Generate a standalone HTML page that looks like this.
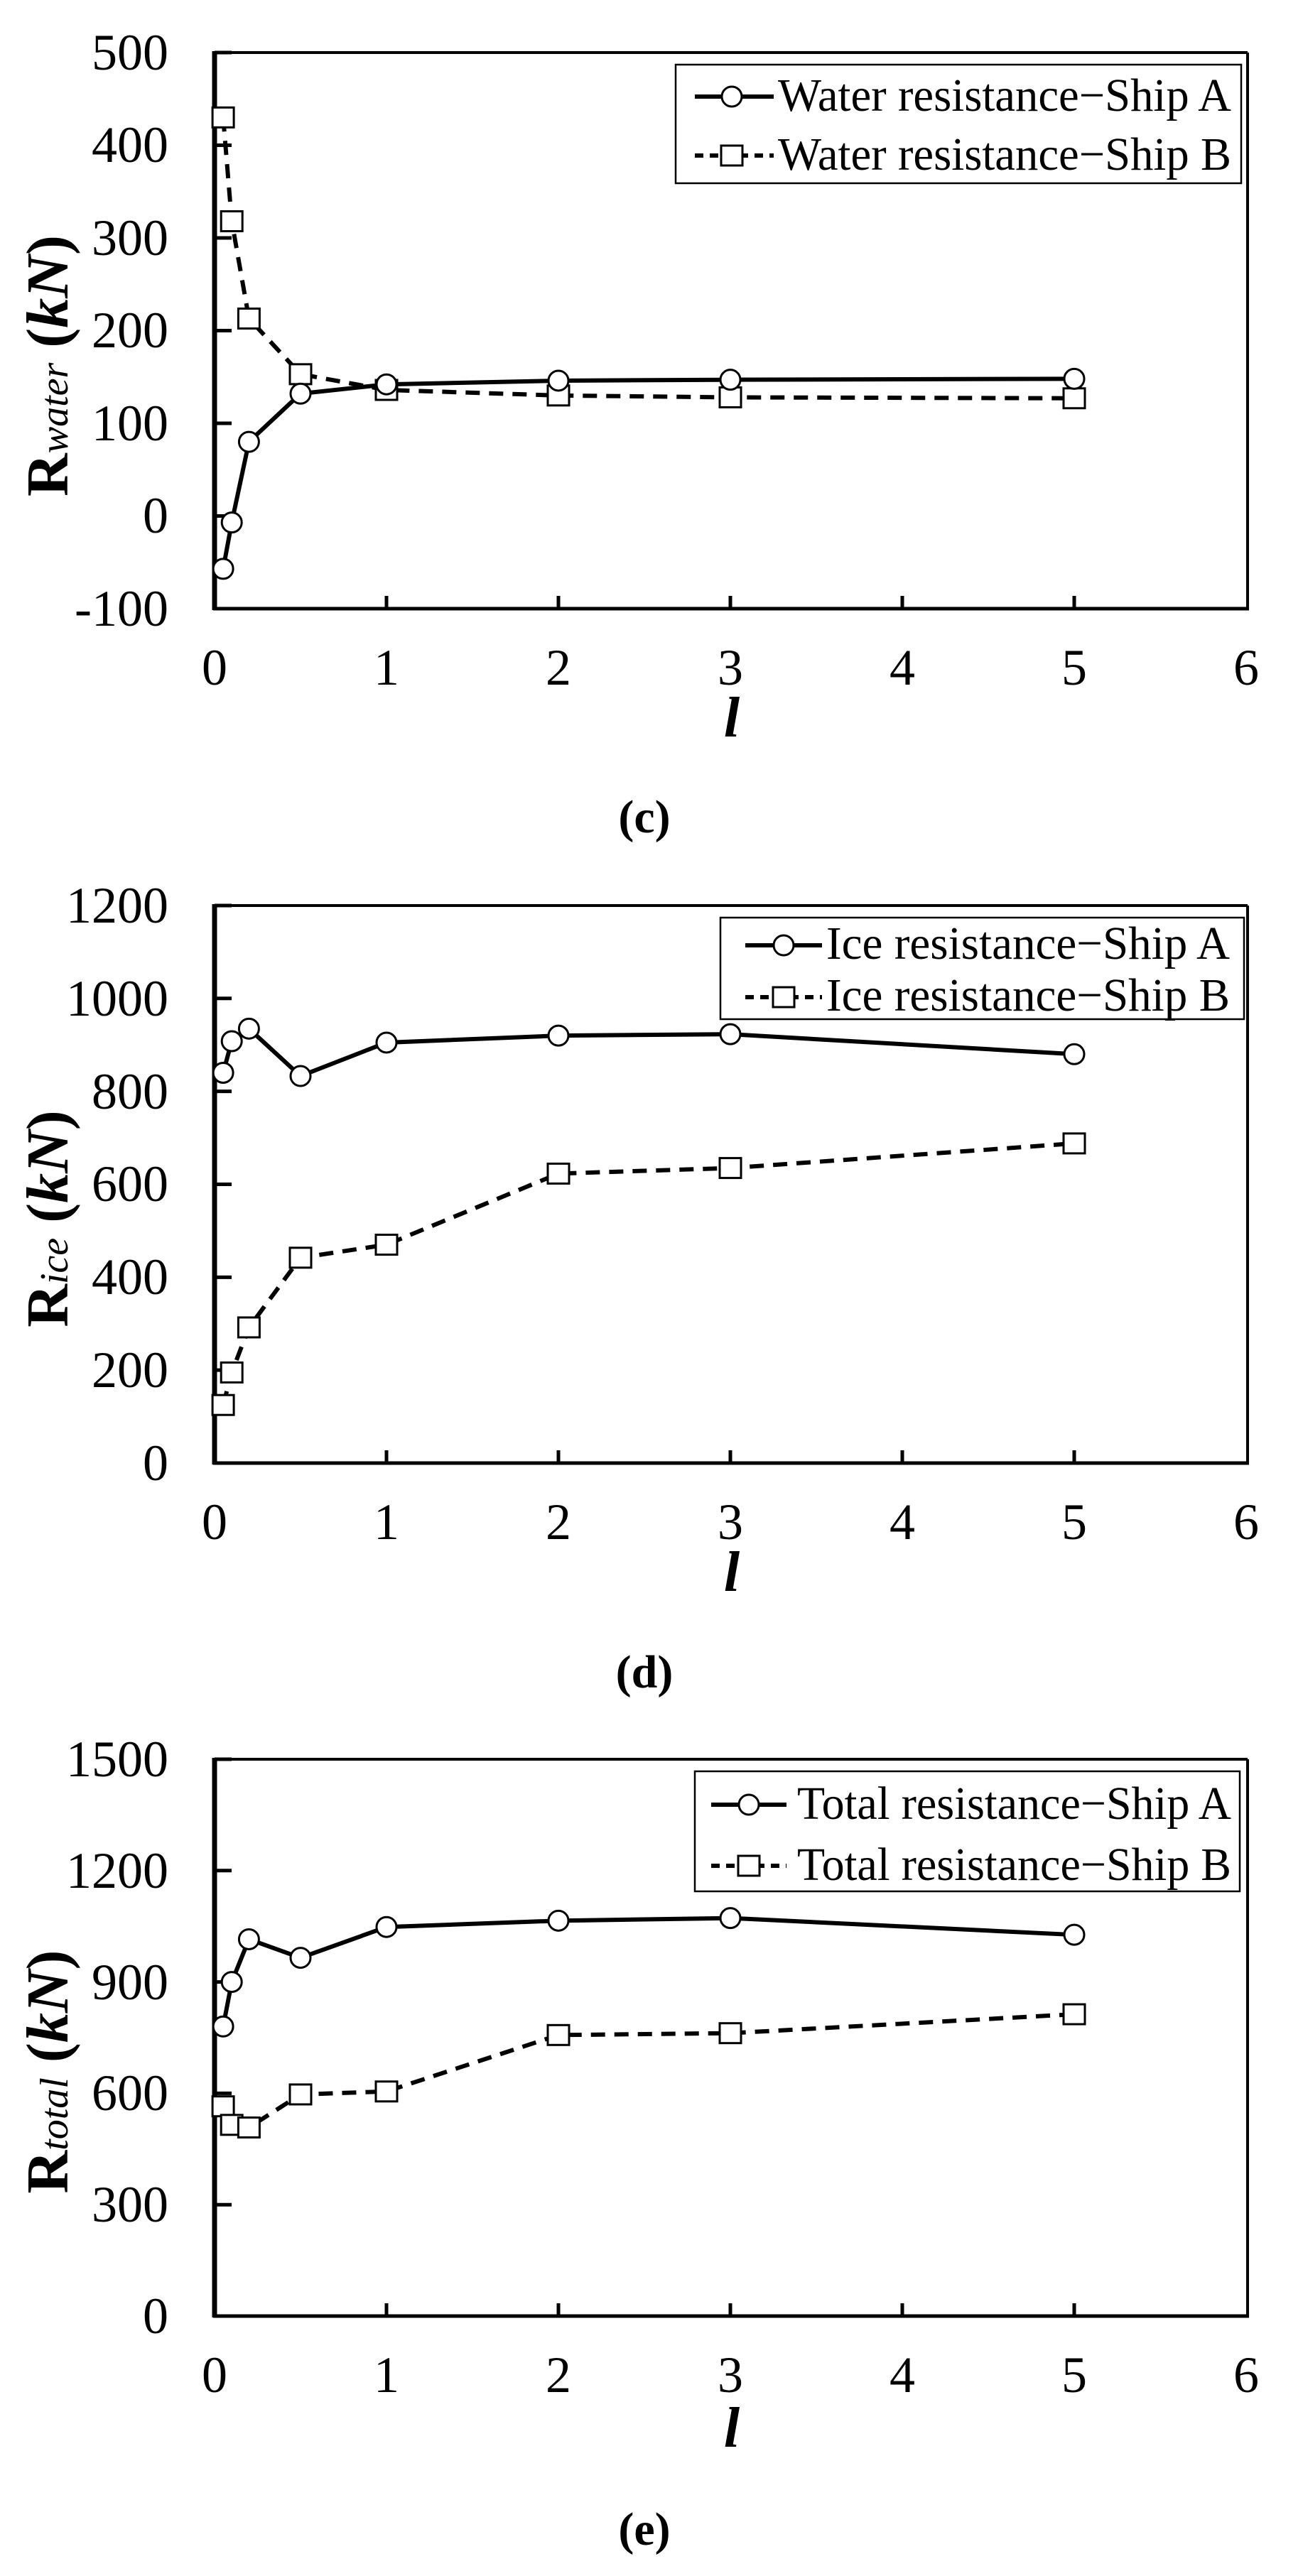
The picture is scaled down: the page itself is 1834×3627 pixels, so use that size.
<!DOCTYPE html>
<html><head><meta charset="utf-8">
<style>
html,body{margin:0;padding:0;background:#fff;}
svg{display:block;}
text{font-family:"Liberation Serif",serif;fill:#000;}
.tk{font-size:72px;}
.lg{font-size:66px;}
.yl{font-size:84px;font-weight:bold;}
.xl{font-size:80px;font-weight:bold;font-style:italic;}
.cap{font-size:66px;font-weight:bold;}
</style></head><body>
<svg id="s" width="1834" height="3627" viewBox="0 0 1834 3627" xmlns="http://www.w3.org/2000/svg">
<rect width="1834" height="3627" fill="#fff"/>
<g id="plots"></g>

<!-- Chart c labels -->
<g class="tk" text-anchor="end">
<text x="237" y="98">500</text><text x="237" y="228">400</text><text x="237" y="359">300</text>
<text x="237" y="489">200</text><text x="237" y="620">100</text><text x="237" y="750">0</text><text x="237" y="881">-100</text>
</g>
<g class="tk" text-anchor="middle">
<text x="302" y="964">0</text><text x="544" y="964">1</text><text x="786" y="964">2</text><text x="1028" y="964">3</text><text x="1270" y="964">4</text><text x="1512" y="964">5</text><text x="1754" y="964">6</text>
</g>
<text class="xl" x="1030" y="1037" text-anchor="middle">l</text>
<text class="cap" x="907" y="1172" text-anchor="middle">(c)</text>
<text class="yl" transform="translate(95,515) rotate(-90)" text-anchor="middle">R<tspan font-size="56" font-style="italic" font-weight="normal">water</tspan> (<tspan font-style="italic">kN</tspan>)</text>
<rect x="951" y="91" width="796" height="167" fill="#fff" stroke="#000" stroke-width="2.5"/>
<text class="lg" x="1095" y="156" textLength="638" lengthAdjust="spacingAndGlyphs">Water resistance−Ship A</text>
<text class="lg" x="1095" y="239" textLength="638" lengthAdjust="spacingAndGlyphs">Water resistance−Ship B</text>

<!-- Chart d labels -->
<g class="tk" text-anchor="end">
<text x="237" y="1299">1200</text><text x="237" y="1430">1000</text><text x="237" y="1561">800</text>
<text x="237" y="1691">600</text><text x="237" y="1822">400</text><text x="237" y="1953">200</text><text x="237" y="2084">0</text>
</g>
<g class="tk" text-anchor="middle">
<text x="302" y="2167">0</text><text x="544" y="2167">1</text><text x="786" y="2167">2</text><text x="1028" y="2167">3</text><text x="1270" y="2167">4</text><text x="1512" y="2167">5</text><text x="1754" y="2167">6</text>
</g>
<text class="xl" x="1030" y="2240" text-anchor="middle">l</text>
<text class="cap" x="907" y="2376" text-anchor="middle">(d)</text>
<text class="yl" transform="translate(95,1716) rotate(-90)" text-anchor="middle">R<tspan font-size="56" font-style="italic" font-weight="normal">ice</tspan> (<tspan font-style="italic">kN</tspan>)</text>
<rect x="1014" y="1292" width="737" height="143" fill="#fff" stroke="#000" stroke-width="2.5"/>
<text class="lg" x="1163" y="1350" textLength="568" lengthAdjust="spacingAndGlyphs">Ice resistance−Ship A</text>
<text class="lg" x="1163" y="1423" textLength="568" lengthAdjust="spacingAndGlyphs">Ice resistance−Ship B</text>

<!-- Chart e labels -->
<g class="tk" text-anchor="end">
<text x="237" y="2501">1500</text><text x="237" y="2658">1200</text><text x="237" y="2815">900</text>
<text x="237" y="2971">600</text><text x="237" y="3128">300</text><text x="237" y="3285">0</text>
</g>
<g class="tk" text-anchor="middle">
<text x="302" y="3368">0</text><text x="544" y="3368">1</text><text x="786" y="3368">2</text><text x="1028" y="3368">3</text><text x="1270" y="3368">4</text><text x="1512" y="3368">5</text><text x="1754" y="3368">6</text>
</g>
<text class="xl" x="1030" y="3445" text-anchor="middle">l</text>
<text class="cap" x="907" y="3583" text-anchor="middle">(e)</text>
<text class="yl" transform="translate(95,2917) rotate(-90)" text-anchor="middle">R<tspan font-size="56" font-style="italic" font-weight="normal">total</tspan> (<tspan font-style="italic">kN</tspan>)</text>
<rect x="978" y="2494" width="767" height="169" fill="#fff" stroke="#000" stroke-width="2.5"/>
<text class="lg" x="1122" y="2561" textLength="611" lengthAdjust="spacingAndGlyphs">Total resistance−Ship A</text>
<text class="lg" x="1122" y="2647" textLength="611" lengthAdjust="spacingAndGlyphs">Total resistance−Ship B</text>
<g id="legs"></g>
</svg>
<script>
(function(){
var NS="http://www.w3.org/2000/svg",g=document.getElementById('plots'),lg=document.getElementById('legs');
function el(n,a,p){var e=document.createElementNS(NS,n);for(var k in a)e.setAttribute(k,a[k]);(p||g).appendChild(e);return e;}
var X=function(x){return 302+242*x;};
var xs=[0.05,0.1,0.2,0.5,1,2,3,5];
var charts=[
 {top:74,bot:857,Y:function(v){return 857-(v+100)*1.305;},yt:[-100,0,100,200,300,400,500],
  A:[-57,-7,80,132,142,146,147,148],B:[430,318,213,153,136,130,128,127],
  leg:{x1:978,x2:1089,m:1030,y1:136,y2:219}},
 {top:1275,bot:2060,Y:function(v){return 2060-v*0.6542;},yt:[0,200,400,600,800,1000,1200],
  A:[840,908,935,833,905,920,923,880],B:[125,195,292,442,470,623,635,688],
  leg:{x1:1049,x2:1157,m:1103,y1:1331,y2:1404}},
 {top:2477,bot:3261,Y:function(v){return 3261-v*0.5227;},yt:[0,300,600,900,1200,1500],
  A:[780,900,1015,965,1048,1065,1072,1027],B:[565,515,508,597,605,757,762,813],
  leg:{x1:1001,x2:1107,m:1054,y1:2541,y2:2627}}
];
charts.forEach(function(c){
 var L=302,R=1756;
 el('line',{x1:L,y1:c.top,x2:R,y2:c.top,stroke:'#000','stroke-width':4});
 el('line',{x1:R,y1:c.top,x2:R,y2:c.bot,stroke:'#000','stroke-width':4});
 el('line',{x1:L-2,y1:c.bot,x2:R+2,y2:c.bot,stroke:'#000','stroke-width':5});
 el('line',{x1:L,y1:c.top-2,x2:L,y2:c.bot+2,stroke:'#000','stroke-width':7});
 c.yt.forEach(function(v){var y=c.Y(v);el('line',{x1:L,y1:y,x2:L+24,y2:y,stroke:'#000','stroke-width':5});});
 for(var i=1;i<=5;i++)el('line',{x1:X(i),y1:c.bot,x2:X(i),y2:c.bot-18,stroke:'#000','stroke-width':5});
 var pa=xs.map(function(x,i){return X(x)+','+c.Y(c.A[i]);}).join(' ');
 var pb=xs.map(function(x,i){return X(x)+','+c.Y(c.B[i]);}).join(' ');
 el('polyline',{points:pb,fill:'none',stroke:'#000','stroke-width':6,'stroke-dasharray':'20 13'});
 el('polyline',{points:pa,fill:'none',stroke:'#000','stroke-width':6});
 xs.forEach(function(x,i){
  el('rect',{x:X(x)-15,y:c.Y(c.B[i])-14,width:30,height:28,fill:'#fff',stroke:'#000','stroke-width':3});
  el('circle',{cx:X(x),cy:c.Y(c.A[i]),r:14,fill:'#fff',stroke:'#000','stroke-width':3});
 });
 var l=c.leg;
 el('line',{x1:l.x1,y1:l.y1,x2:l.x2,y2:l.y1,stroke:'#000','stroke-width':6},lg);
 el('circle',{cx:l.m,cy:l.y1,r:14,fill:'#fff',stroke:'#000','stroke-width':3},lg);
 el('line',{x1:l.x1,y1:l.y2,x2:l.x2,y2:l.y2,stroke:'#000','stroke-width':6,'stroke-dasharray':'12 9'},lg);
 el('rect',{x:l.m-15,y:l.y2-14,width:30,height:28,fill:'#fff',stroke:'#000','stroke-width':3},lg);
});
})();
</script>
</body></html>
